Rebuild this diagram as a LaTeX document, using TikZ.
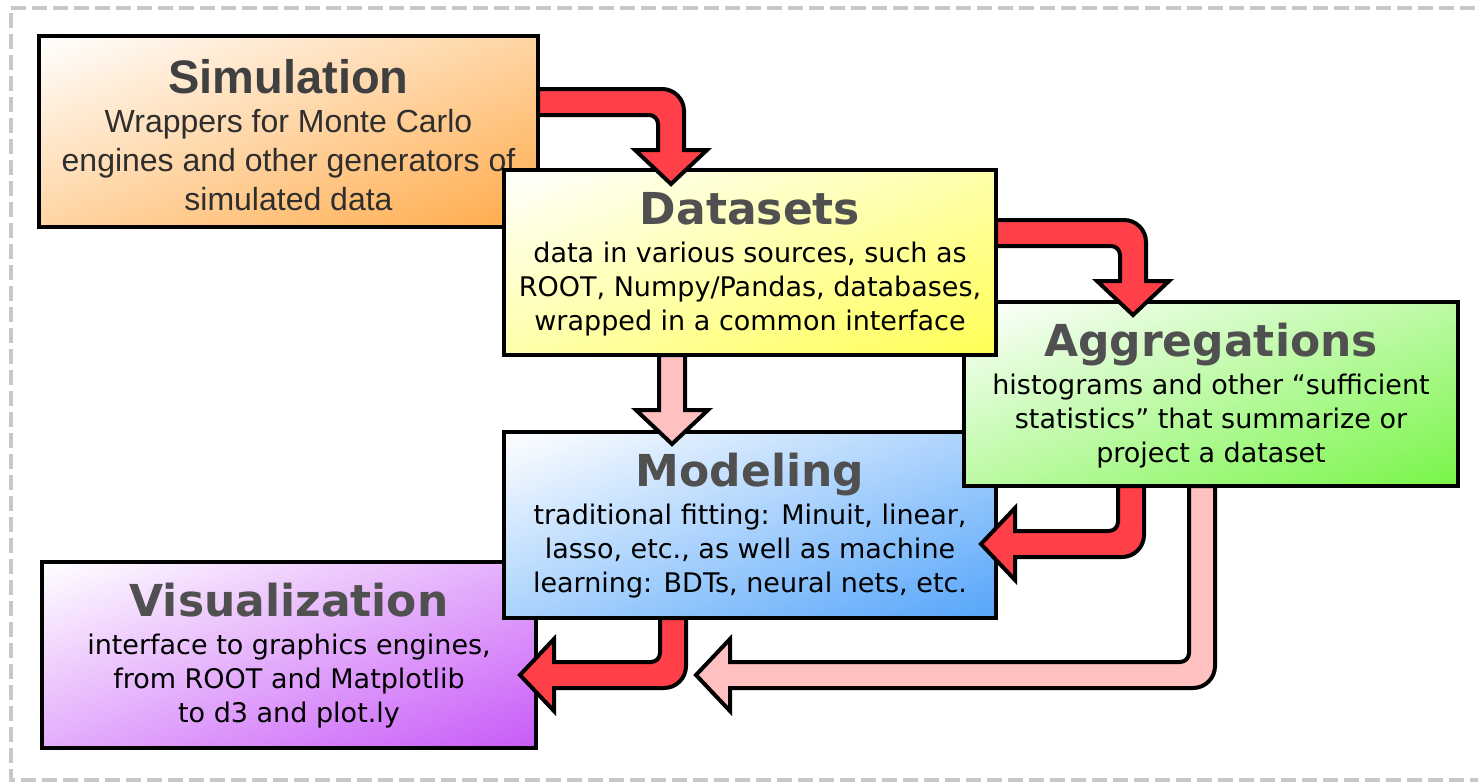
\documentclass[tikz,border=0pt]{standalone}
\usepackage{fontspec}
\setmainfont{DejaVu Sans}
\newfontfamily\libsans{Liberation Sans}
\usetikzlibrary{calc}
\definecolor{arrowred}{HTML}{FF4048}
\definecolor{arrowpink}{HTML}{FFC0C2}
\definecolor{simorange}{HTML}{FFAA48}
\definecolor{datayellow}{HTML}{FFFF55}
\definecolor{agggreen}{HTML}{78F548}
\definecolor{modelblue}{HTML}{55A5FA}
\definecolor{visviolet}{HTML}{C85AF8}
\definecolor{titlegray}{HTML}{505050}
\definecolor{simtitle}{HTML}{404040}
\definecolor{simbody}{HTML}{2E2E2E}
\definecolor{dashgray}{HTML}{C8C8C8}
\tikzset{
  box/.style={draw=black, line width=4.5pt, rectangle, inner sep=0pt, outer sep=0pt},
  fatarrow/.style={draw=black, line width=4pt, line join=miter, miter limit=10},
  ttl/.style={anchor=base, inner sep=0pt, text=titlegray, font=\fontsize{44}{52}\selectfont\bfseries},
  bdy/.style={anchor=base, inner sep=0pt, text=black, font=\fontsize{27}{34}\selectfont},
  simttl/.style={anchor=base, inner sep=0pt, text=simtitle, font=\libsans\fontsize{47}{56}\selectfont\bfseries},
  simbdy/.style={anchor=base, inner sep=0pt, text=simbody, font=\libsans\fontsize{32}{39}\selectfont},
}
% diagonal gradient box: name, cx, cy, w, h, colour
\newcommand\gradbox[6]{%
  \begin{scope}
    \clip (#2-#4/2, #3-#5/2) rectangle (#2+#4/2, #3+#5/2);
    \begin{scope}[transform canvas={cm={#4,-#5,#4,#5,(#2-#4/2,#3+#5/2)}}]
      \shade[left color=white, right color=#6] (0,-0.6) rectangle (1,0.6);
    \end{scope}
  \end{scope}
  \node[box, minimum width=#4pt, minimum height=#5pt] (#1) at (#2,#3) {};
}
\newcommand\boxtext[5]{%
  \node[ttl] (#1-t) at ($(#1.north)+(0,-54)$) {#2};
  \node[bdy] (#1-1) at ($(#1.north)+(0,-92)$) {#3};
  \node[bdy] (#1-2) at ($(#1.north)+(0,-126)$) {#4};
  \node[bdy] (#1-3) at ($(#1.north)+(0,-160)$) {#5};
}
% right, then down
\newcommand\arrowRD[3]{%
  \draw[fatarrow, fill=#1] let \p1=(#2), \p2=(#3) in
    (\x1, \y1+13pt) -- (\x2-9pt, \y1+13pt) arc[start angle=90, end angle=0, radius=22pt]
    -- (\x2+13pt, \y2+34pt) -- (\x2+36pt, \y2+34pt) -- (\x2, \y2) -- (\x2-36pt, \y2+34pt)
    -- (\x2-13pt, \y2+34pt) -- (\x2-13pt, \y1-22pt) arc[start angle=0, end angle=90, radius=9pt]
    -- (\x1, \y1-13pt) -- cycle;
}
% down, then left
\newcommand\arrowDL[3]{%
  \draw[fatarrow, fill=#1] let \p1=(#2), \p2=(#3) in
    (\x1+13pt, \y1) -- (\x1+13pt, \y2+9pt) arc[start angle=0, end angle=-90, radius=22pt]
    -- (\x2+34pt, \y2-13pt) -- (\x2+34pt, \y2-36pt) -- (\x2, \y2) -- (\x2+34pt, \y2+36pt)
    -- (\x2+34pt, \y2+13pt) -- (\x1-22pt, \y2+13pt) arc[start angle=-90, end angle=0, radius=9pt]
    -- (\x1-13pt, \y1) -- cycle;
}
% straight down
\newcommand\arrowD[3]{%
  \draw[fatarrow, fill=#1] let \p1=(#2), \p2=(#3) in
    (\x1+13pt, \y1) -- (\x1+13pt, \y2+34pt) -- (\x1+36pt, \y2+34pt) -- (\x1, \y2)
    -- (\x1-36pt, \y2+34pt) -- (\x1-13pt, \y2+34pt) -- (\x1-13pt, \y1) -- cycle;
}
\begin{document}
\begin{tikzpicture}[x=1pt, y=1pt]
\useasboundingbox (0,0) rectangle (1478,-782);
\fill[white] (0,0) rectangle (1478,-782);
\draw[dashgray, line width=4pt, dash pattern=on 15pt off 6pt] (11,-7.5) -- (1478,-7.5);
\draw[dashgray, line width=4pt, dash pattern=on 15pt off 6pt] (11,-13) -- (11,-780) -- (1478,-780);

% boxes (stacking: simulation, visualization, modeling, aggregations, datasets)
\gradbox{sim}{288.5}{-131.5}{499}{191}{simorange}
\node[simttl] (sim-t) at ($(sim.north)+(0,-57)$) {Simulation};
\node[simbdy] (sim-1) at ($(sim.north)+(0,-96)$) {Wrappers for Monte Carlo};
\node[simbdy] (sim-2) at ($(sim.north)+(0,-135)$) {engines and other generators of};
\node[simbdy] (sim-3) at ($(sim.north)+(0,-174)$) {simulated data};

\gradbox{vis}{289}{-655}{494}{186}{visviolet}
\boxtext{vis}{Visualization}{interface to graphics engines,}{from ROOT and Matplotlib}{to d3 and plot.ly}

\gradbox{model}{750}{-525}{492}{186}{modelblue}
\boxtext{model}{Modeling}{traditional fitting: Minuit, linear,}{lasso, etc., as well as machine}{learning: BDTs, neural nets, etc.}

\gradbox{agg}{1211}{-394}{494}{184}{agggreen}
\boxtext{agg}{Aggregations}{histograms and other “sufficient}{statistics” that summarize or}{project a dataset}

\gradbox{data}{750}{-262.5}{492}{185}{datayellow}
\boxtext{data}{Datasets}{data in various sources, such as}{ROOT, Numpy/Pandas, databases,}{wrapped in a common interface}

% arrows
\arrowRD{arrowred}{sim.east |- 0,-102}{$(data.north west)+(167,-14)$}
\arrowRD{arrowred}{data.east |- 0,-233}{$(agg.north west)+(169,-13)$}
\arrowD{arrowpink}{$(data.south west)+(168,0)$}{$(model.north west)+(168,-12)$}
\arrowDL{arrowred}{$(agg.south west)+(167,0)$}{$(model.east)+(-15,-19)$}
\arrowDL{arrowred}{$(model.south west)+(169,0)$}{$(vis.east)+(-16,-20)$}
\arrowDL{arrowpink}{$(agg.south west)+(238,0)$}{$(vis.east)+(160,-20)$}
\end{tikzpicture}
\end{document}
